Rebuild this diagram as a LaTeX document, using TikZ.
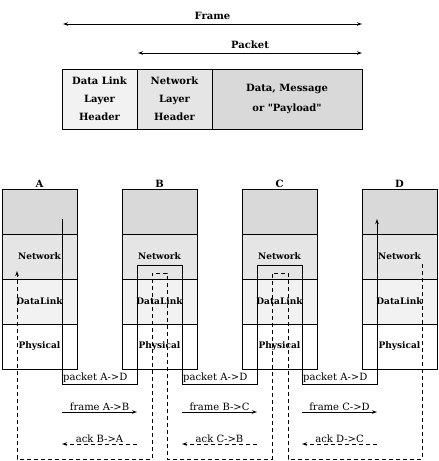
\documentclass[tikz,border=0pt]{standalone}
\usepackage{fontspec}
\setmainfont{DejaVu Serif}[Ligatures=TeXOff]
\usetikzlibrary{arrows.meta,positioning}
\definecolor{shadeA}{gray}{0.95}
\definecolor{shadeB}{gray}{0.90}
\definecolor{shadeC}{gray}{0.85}
\tikzset{
	%Define standard arrow tip
	>={Stealth[open,length=5pt,width=3.5pt]},
	%Define style for header fields
	field/.style={
		rectangle,
		draw=black, line width=0.8pt,
		minimum width=75pt,
		minimum height=60pt,
		outer sep=0pt,
		align=center,
		font=\fontsize{10}{18}\selectfont\bfseries},
	% Define style for layer boxes
	layer/.style={
		rectangle,
		draw=black, line width=0.8pt,
		minimum width=75pt,
		minimum height=45pt,
		outer sep=0pt, inner sep=0pt,
		font=\fontsize{9}{11}\selectfont\bfseries},
	% Define line styles
	dimline/.style={<->, line width=0.6pt},
	pkt/.style={->, line width=0.8pt},
	frm/.style={->, line width=0.8pt},
	ackline/.style={->, line width=0.8pt, dash pattern=on 4pt off 3pt},
	lbl/.style={font=\fontsize{10}{12}\selectfont, inner sep=1pt}
}
\begin{document}
\begin{tikzpicture}[x=1pt, y=-1pt]
		\useasboundingbox (0,0) rectangle (439,461);
		%frame layout
		\node[field, fill=shadeA] (dlh) at (99.5,99) {Data Link\\Layer\\Header};
		\node[field, fill=shadeB, right=0pt of dlh] (nlh) {Network\\Layer\\Header};
		\node[field, fill=shadeC, minimum width=150pt, right=0pt of nlh,
		font=\fontsize{10}{20}\selectfont\bfseries] (pay) {Data, Message\\or "Payload"};
		% spans above the fields
		\coordinate (frameL) at (63,24);
		\coordinate (frameR) at (362,24);
		\coordinate (packL) at (138,53);
		\coordinate (packR) at (362,53);
		\draw[dimline] (frameL) -- node[above=1pt, font=\bfseries] (frameLbl) {Frame} (frameR);
		\draw[dimline] (packL) -- node[above=1pt, font=\bfseries] (packLbl) {Packet} (packR);
		% the four protocol stacks
		\foreach \s/\x in {A/39.5,B/159.5,C/279.5,D/399.5}{
			\node[layer, fill=shadeC] (\s-top) at (\x,211.5) {};
			\node[layer, fill=shadeB, below=0pt of \s-top] (\s-net) {Network};
			\node[layer, fill=shadeA, below=0pt of \s-net] (\s-dl) {DataLink};
			\node[layer, below=0pt of \s-dl] (\s-phy) {Physical};
			\node[above=0pt of \s-top, font=\bfseries, inner sep=1pt] (\s-name) {\s};
		}
		% packet goes A -> D through B and C
		\coordinate (src) at (62,219);
		\coordinate (dst) at (377,219);
		\draw[pkt] (src) |- (137,384) |- (182,265) |- (257,384) |- (302,265) |- (377,384) -- (dst);
		% acks come back D -> A
		\coordinate (ackSrc) at (422,264);
		\coordinate (ackDst) at (17,271);
		\draw[ackline] (ackSrc) |- (288,459) |- (272,273) |- (167,459) |- (152,273) |- (17,459) -- (ackDst);
		% hop labels
		\foreach \xl/\p/\q in {62/A/B,182/B/C,302/C/D}{
			\node[lbl, anchor=west] (pkt-\p) at (\xl,377.5) {packet A-{}>D};
			\coordinate (f-\p) at (\xl,412);
			\draw[frm] (f-\p) -- node[lbl, above] (flbl-\p) {frame \p-{}>\q} ++(75,0);
			\coordinate (a-\q) at (\xl+75,444);
			\draw[ackline] (a-\q) -- node[lbl, above] (albl-\q) {ack \q-{}>\p} ++(-75,0);
		}
\end{tikzpicture}
\end{document}
